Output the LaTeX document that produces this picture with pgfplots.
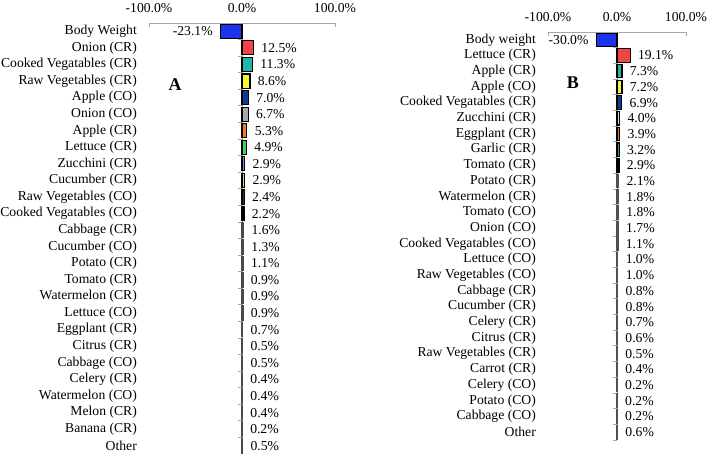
\documentclass[border=0pt]{standalone}
\usepackage{fontspec}
\setmainfont{Liberation Serif}
\usepackage{pgfplots}
\pgfplotsset{compat=1.18}
\definecolor{axgray}{HTML}{A6A6A6}
\definecolor{zgray}{HTML}{909090}
\definecolor{cBlue}{HTML}{1C32EB}
\definecolor{cRed}{HTML}{F04545}
\definecolor{cTeal}{HTML}{1FB5A8}
\definecolor{cYellow}{HTML}{F5F532}
\definecolor{cDBlue}{HTML}{0F3A96}
\definecolor{cGray}{HTML}{A8A8A8}
\definecolor{cOrange}{HTML}{F07D20}
\definecolor{cGreen}{HTML}{3CD25A}
\definecolor{cLav}{HTML}{8C8CDC}
\definecolor{cTan}{HTML}{E6C882}
\definecolor{cDPurple}{HTML}{3C2D3C}
\definecolor{cDSlate}{HTML}{2D3C3C}
\definecolor{cDark}{HTML}{4A4A4A}
\definecolor{cLight}{HTML}{D8D8D8}
\definecolor{cGreenB}{HTML}{3C9650}
\definecolor{cDSB}{HTML}{2D3040}
\definecolor{cRest}{HTML}{505050}
\pgfplotsset{
  panel/.style={
    scale only axis, xbar, bar shift=0pt, bar width=0.85, clip=false,
    xmin=-100, xmax=100, ymin=-0.5, ymax=25.5, enlargelimits=false,
    axis x line*=top, axis y line*=left,
    y axis line style={draw=none},
    x axis line style={draw=axgray, line width=0.8pt, -},
    xtick={-100,0,100}, xticklabels={-100.0\%,0.0\%,100.0\%},
    tick align=inside, major tick length=4bp,
    x tick style={draw=axgray, line width=0.8pt},
    ytick={0,...,25}, y tick style={draw=none},
    yticklabel style={inner sep=0pt, anchor=east, xshift=-12bp},
    xticklabel style={inner sep=0pt, anchor=south, yshift=10bp},
    /pgf/number format/assume math mode=true,
    point meta=x,
    nodes near coords={\pgfmathprintnumber[fixed,fixed zerofill,precision=1]{\pgfplotspointmeta}\%},
    every node near coord/.append style={xshift=4bp, text=black},
    every axis plot/.append style={draw=black, line width=1.1pt},
  }
}
\begin{document}
\begin{tikzpicture}[font=\fontsize{13.7}{16}\selectfont]
\begin{axis}[panel, at={(149bp,-23bp)}, anchor=north west, width=186bp, height=431bp,
  yticklabels={Other, Banana (CR), Melon (CR), Watermelon (CO), Celery (CR), Cabbage (CO), Citrus (CR), Eggplant (CR), Lettuce (CO), Watermelon (CR), Tomato (CR), Potato (CR), Cucumber (CO), Cabbage (CR), Cooked Vegatables (CO), Raw Vegetables (CO), Cucumber (CR), Zucchini (CR), Lettuce (CR), Apple (CR), Onion (CO), Apple (CO), Raw Vegetables (CR), Cooked Vegatables (CR), Onion (CR), Body Weight}]
\draw[zgray, line width=0.8pt] (axis cs:0,-0.5) -- (axis cs:0,25.5);
\pgfplotsinvokeforeach{0,...,25}{\draw[axgray, line width=0.8pt] (axis cs:0,#1-0.5) -- ++(-4bp,0pt);}
\addplot[fill=cBlue, every node near coord/.append style={xshift=-8bp}] coordinates {(-23.1,25)};
\addplot[fill=cRed] coordinates {(12.5,24)};
\addplot[fill=cTeal] coordinates {(11.3,23)};
\addplot[fill=cYellow] coordinates {(8.6,22)};
\addplot[fill=cDBlue] coordinates {(7.0,21)};
\addplot[fill=cGray] coordinates {(6.7,20)};
\addplot[fill=cOrange] coordinates {(5.3,19)};
\addplot[fill=cGreen] coordinates {(4.9,18)};
\addplot[fill=cLav] coordinates {(2.9,17)};
\addplot[fill=cTan] coordinates {(2.9,16)};
\addplot[fill=cDPurple] coordinates {(2.4,15)};
\addplot[fill=cDSlate] coordinates {(2.2,14)};
\addplot[fill=cDark, draw=cDark, line width=1.5pt] coordinates {(1.6,13) (1.3,12) (1.1,11) (0.9,10) (0.9,9) (0.9,8) (0.7,7) (0.5,6) (0.5,5) (0.4,4) (0.4,3) (0.4,2) (0.2,1) (0.5,0)};
\node[font=\fontsize{18}{20}\selectfont\bfseries] at (axis cs:-72,21.8) {A};
\end{axis}
\begin{axis}[panel, at={(548bp,-32bp)}, anchor=north west, width=138bp, height=408bp,
  yticklabels={Other, Cabbage (CO), Potato (CO), Celery (CO), Carrot (CR), Raw Vegetables (CR), Citrus (CR), Celery (CR), Cucumber (CR), Cabbage (CR), Raw Vegetables (CO), Lettuce (CO), Cooked Vegatables (CO), Onion (CO), Tomato (CO), Watermelon (CR), Potato (CR), Tomato (CR), Garlic (CR), Eggplant (CR), Zucchini (CR), Cooked Vegatables (CR), Apple (CO), Apple (CR), Lettuce (CR), Body weight}]
\draw[zgray, line width=0.8pt] (axis cs:0,-0.5) -- (axis cs:0,25.5);
\pgfplotsinvokeforeach{0,...,25}{\draw[axgray, line width=0.8pt] (axis cs:0,#1-0.5) -- ++(-4bp,0pt);}
\addplot[fill=cBlue, every node near coord/.append style={xshift=-8bp}] coordinates {(-30.0,25)};
\addplot[fill=cRed] coordinates {(19.1,24)};
\addplot[fill=cTeal] coordinates {(7.3,23)};
\addplot[fill=cYellow] coordinates {(7.2,22)};
\addplot[fill=cDBlue] coordinates {(6.9,21)};
\addplot[fill=cLight] coordinates {(4.0,20)};
\addplot[fill=cOrange] coordinates {(3.9,19)};
\addplot[fill=cGreenB] coordinates {(3.2,18)};
\addplot[fill=cDSB] coordinates {(2.9,17)};
\addplot[fill=cRest, draw=cRest, line width=1.5pt] coordinates {(2.1,16) (1.8,15) (1.8,14) (1.7,13) (1.1,12) (1.0,11) (1.0,10) (0.8,9) (0.8,8) (0.7,7) (0.6,6) (0.5,5) (0.4,4) (0.2,3) (0.2,2) (0.2,1) (0.6,0)};
\node[font=\fontsize{18}{20}\selectfont\bfseries] at (axis cs:-64,22.25) {B};
\end{axis}
\pgfresetboundingbox
\path[use as bounding box] (0,0) rectangle (707bp,-454bp);
\end{tikzpicture}
\end{document}
